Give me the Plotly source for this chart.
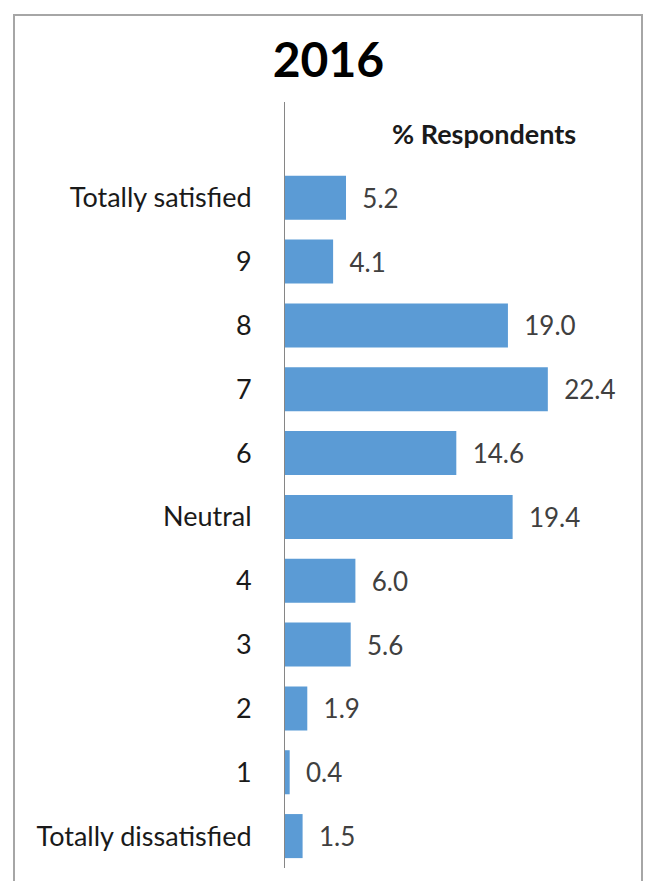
import plotly.graph_objects as go

categories = ["Totally dissatisfied", "1", "2", "3", "4", "Neutral", "6", "7", "8", "9", "Totally satisfied"]
values = [1.5, 0.4, 1.9, 5.6, 6.0, 19.4, 14.6, 22.4, 19.0, 4.1, 5.2]

title_text = "2016"
series_label = "% Respondents"

W, H = 649, 881
FONT = "Lato"

fig = go.Figure()
fig.add_trace(go.Bar(
    x=values, y=categories, orientation="h",
    marker=dict(color="#5B9BD5", line=dict(width=0)),
    texttemplate="\u00a0\u00a0%{x:.1f}", textposition="outside",
    textfont=dict(family=FONT, size=26, color="#404040"),
    cliponaxis=False, hoverinfo="skip",
))

fig.update_layout(
    width=W, height=H,
    margin=dict(l=285, r=12, t=102, b=13),
    paper_bgcolor="white", plot_bgcolor="white",
    bargap=0.31, showlegend=False,
    title=dict(text="<b>" + title_text + "</b>", x=0.506, xanchor="center",
               y=1 - 60 / H, yanchor="middle", yref="container",
               font=dict(family=FONT, size=48, color="black")),
    xaxis=dict(range=[0, 30], showgrid=False, zeroline=False, showticklabels=False,
               showline=False, fixedrange=True),
    yaxis=dict(type="category", categoryorder="array", categoryarray=categories,
               range=[-0.5, 11.5], showgrid=False, zeroline=False,
               showline=True, linecolor="#868686", linewidth=1,
               ticks="outside", ticklen=0, ticklabelstandoff=27,
               tickfont=dict(family=FONT, size=27, color="#1a1a1a")),
    shapes=[dict(type="rect", xref="paper", yref="paper",
                 x0=-271 / 352, x1=357 / 352, y0=-0.05, y1=1 + 87 / 766,
                 line=dict(color="#A6A6A6", width=2), fillcolor="rgba(0,0,0,0)",
                 layer="below")],
    annotations=[dict(text="<b>" + series_label + "</b>", x=17.0, y=11, xref="x", yref="y",
                      showarrow=False, xanchor="center", yanchor="middle",
                      font=dict(family=FONT, size=27, color="#1a1a1a"))],
)

fig.write_html("out.html")
